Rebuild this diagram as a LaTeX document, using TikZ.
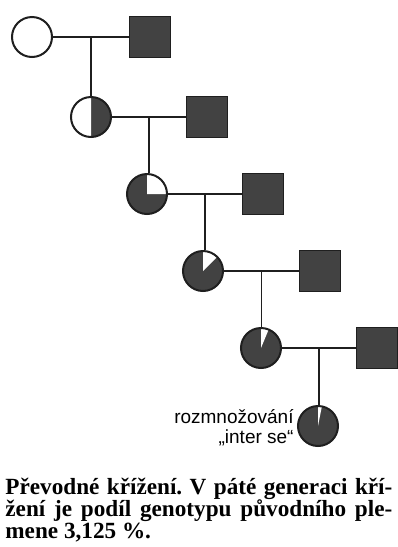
\documentclass[tikz,border=0pt]{standalone}
\usepackage{fontspec}
\newfontfamily\capfont{Liberation Serif}
\newfontfamily\labfont{Liberation Sans}
\usetikzlibrary{positioning}
\definecolor{dark}{gray}{0.26}
\definecolor{rim}{gray}{0.12}

\begin{document}
\frenchspacing
\begin{tikzpicture}[x=0.5pt, y=-0.5pt,
	fem/.style={circle, draw=rim, line width=1pt, fill=dark, minimum size=20pt, inner sep=0pt},
	male/.style={rectangle, draw=rim, line width=0.5pt, fill=dark, minimum size=20.5pt, inner sep=0pt},
	part/.style 2 args={path picture={\fill[white] (path picture bounding box.center) -- ++(#1:15pt) arc[start angle=#1, delta angle=#2, radius=15pt] -- cycle;}},
	link/.style={rim, line width=0.75pt},
	capline/.style={anchor=base west, inner sep=0pt, font=\capfont\bfseries\fontsize{11.6}{11}\selectfont}]
		\useasboundingbox (0,0) rectangle (397,547);

\node[fem, fill=white] (C1) at (32,37) {};
\node[male] (S1) at (150,37) {};
\node[fem, part={90}{180}] (C2) at (91,117) {};
\node[male] (S2) at (207,117) {};
\node[fem, part={0}{90}] (C3) at (147,194) {};
\node[male] (S3) at (263,194) {};
\node[fem, part={45}{45}] (C4) at (203,271) {};
\node[male] (S4) at (320,271) {};
\node[fem, part={67.5}{22.5}] (C5) at (261,348) {};
\node[male] (S5) at (377,348) {};
\node[fem, part={78.75}{11.25}] (C6) at (318,426) {};

\draw[link] (C1) -- (S1) coordinate[midway] (M1);
\draw[link] (C2) -- (S2) coordinate[midway] (M2);
\draw[link] (C3) -- (S3) coordinate[midway] (M3);
\draw[link] (C4) -- (S4) coordinate[midway] (M4);
\draw[link] (C5) -- (S5) coordinate[midway] (M5);
\draw[link] (M1) -- (M1 |- C2.north);
\draw[link] (M2) -- (M2 |- C3.north);
\draw[link] (M3) -- (M3 |- C4.north);
\draw[link] (M4) -- (M4 |- C5.north);
\draw[link] (M5) -- (M5 |- C6.north);

\node[left=1.5pt of C6, yshift=-1pt, align=right, inner sep=0pt, font=\labfont\fontsize{9.5}{10}\selectfont] (inter) {rozmnožování\\„inter se“};

\node[capline] (cap1) at (5,494) {\makebox[193.5pt][s]{Převodné křížení. V páté generaci kří-}};
\node[capline] (cap2) at (5,516) {\makebox[193.5pt][s]{žení je podíl genotypu původního ple-}};
\node[capline] (cap3) at (5,538) {mene 3,125~\%.};
	\end{tikzpicture}
\end{document}
